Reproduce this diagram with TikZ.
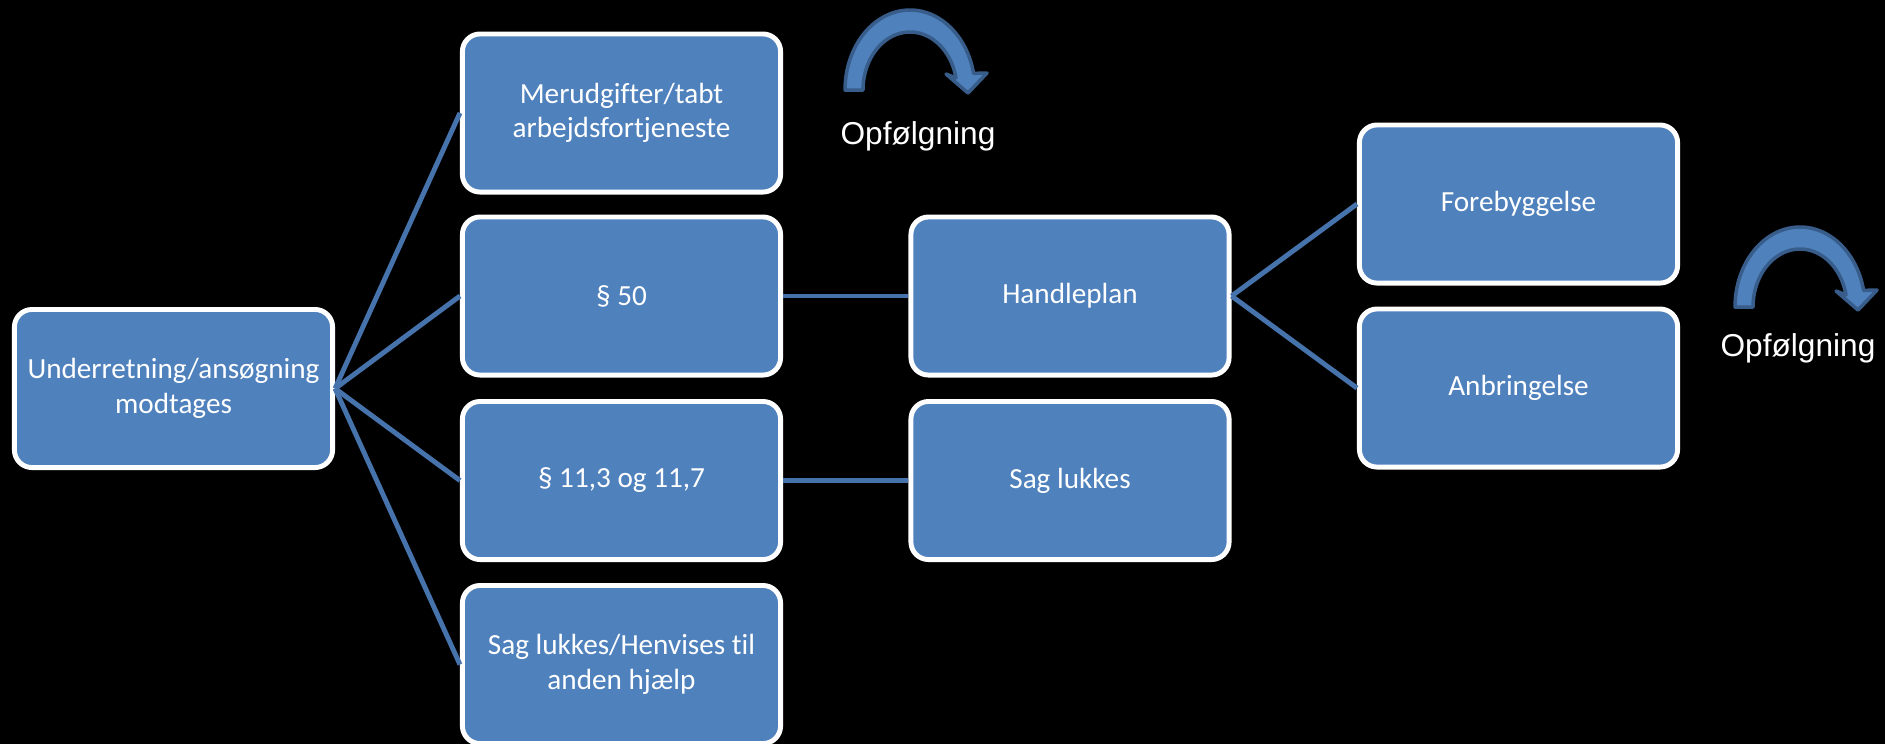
\documentclass[tikz,border=0pt]{standalone}
\usepackage{fontspec}
\setmainfont{Carlito}[Ligatures=NoCommon]
\newfontfamily\arialfont{Liberation Sans}
\definecolor{boxblue}{HTML}{4F81BD}
\definecolor{linkblue}{HTML}{4673AC}
\definecolor{rimblue}{HTML}{385D8A}
\tikzset{
  stepbox/.style={draw=white,fill=boxblue,line width=1.4pt,rounded corners=5pt,
    minimum width=3.18cm,minimum height=1.58cm,inner xsep=2pt,
    align=center,text=white,font=\fontsize{8.3}{9.8}\selectfont},
  link/.style={draw=linkblue,line width=1.4pt},
  turnarrow/.style={fill=boxblue,draw=rimblue,line width=1pt,line join=round},
  followtext/.style={text=white,font=\arialfont\fontsize{9}{11}\selectfont}
}
\begin{document}
\begin{tikzpicture}[x=0.01cm,y=-0.01cm,smooth,samples=60]
	\useasboundingbox (0,0) rectangle (1885,744);
	\fill[black] (0,0) rectangle (1885,744);
	% boxes
	\node[stepbox] (under) at (173.5,388.5) {Underretning/ansøgning\\modtages};
	\node[stepbox] (merud) at (621.5,113) {Merudgifter/tabt\\arbejdsfortjeneste};
	\node[stepbox] (p50) at (621.5,296) {§ 50};
	\node[stepbox] (p11) at (621.5,480.5) {§ 11,3 og 11,7};
	\node[stepbox] (henvis) at (621.5,664.5) {Sag lukkes/Henvises til\\anden hjælp};
	\node[stepbox] (handle) at (1070,296) {Handleplan};
	\node[stepbox] (lukkes) at (1070,480.5) {Sag lukkes};
	\node[stepbox] (foreb) at (1518.5,204) {Forebyggelse};
	\node[stepbox] (anbr) at (1518.5,388) {Anbringelse};
	% connectors
	\draw[link] (under.east)--(merud.west);
	\draw[link] (under.east)--(p50.west);
	\draw[link] (under.east)--(p11.west);
	\draw[link] (under.east)--(henvis.west);
	\draw[link] (p50.east)--(handle.west);
	\draw[link] (p11.east)--(lukkes.west);
	\draw[link] (handle.east)--(foreb.west);
	\draw[link] (handle.east)--(anbr.west);
	% follow-up arrows
	\filldraw[turnarrow] plot[domain=180:348] ({910+65*cos(\x)},{90+80*sin(\x)})
		-- (987,73) -- (968,93) -- (946,74)
		-- plot[domain=348:180] ({910+47*cos(\x)},{90+58*sin(\x)}) -- cycle;
	\node[followtext] (fol1) at (918,136) {Opfølgning};
	\filldraw[turnarrow,shift={(890,217)}] plot[domain=180:348] ({910+65*cos(\x)},{90+80*sin(\x)})
		-- (987,73) -- (968,93) -- (946,74)
		-- plot[domain=348:180] ({910+47*cos(\x)},{90+58*sin(\x)}) -- cycle;
	\node[followtext] (fol2) at (1798,348) {Opfølgning};
\end{tikzpicture}
\end{document}
